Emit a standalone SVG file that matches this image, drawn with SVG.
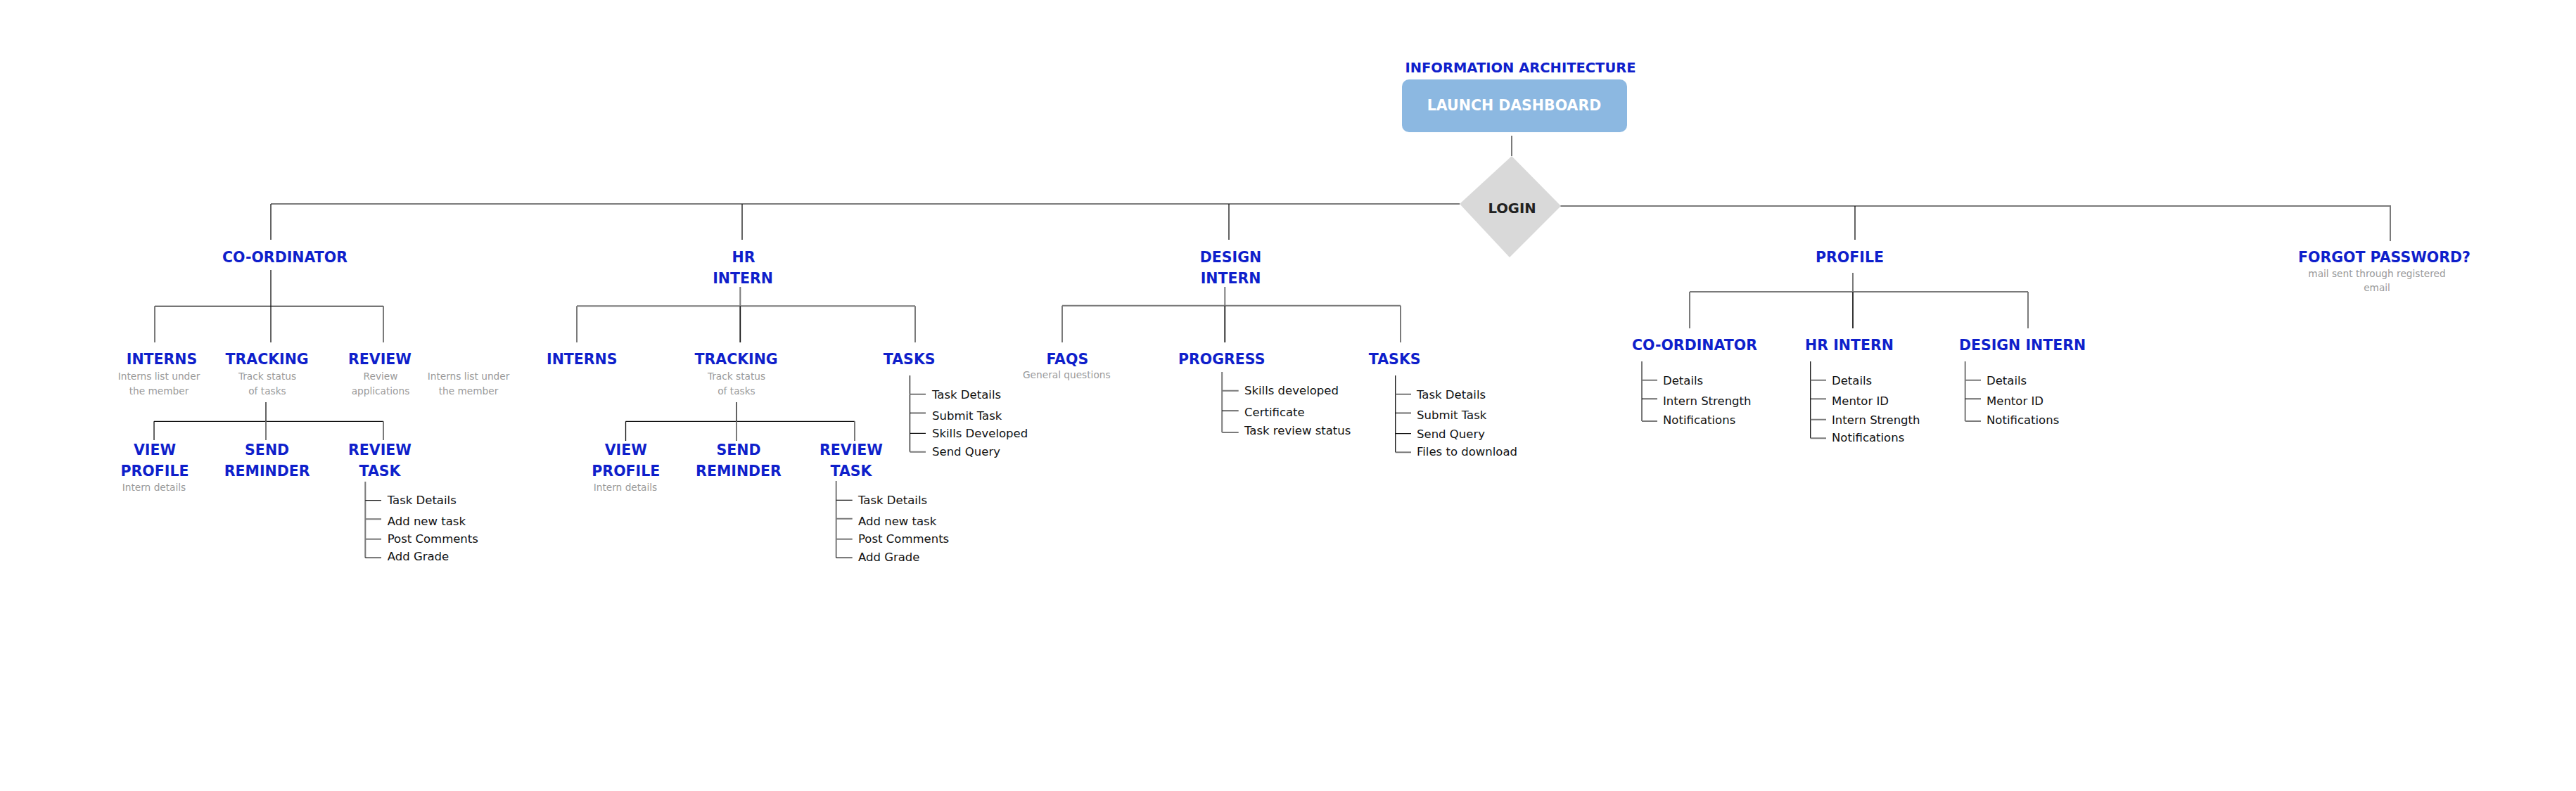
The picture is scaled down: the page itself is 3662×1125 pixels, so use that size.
<svg xmlns="http://www.w3.org/2000/svg" width="3662" height="1125" viewBox="0 0 3662 1125">
<style>
.h{font-family:"DejaVu Sans","Liberation Sans",sans-serif;font-weight:bold;font-size:20.5px;fill:#0F1FCB;text-anchor:middle}
.s{font-family:"DejaVu Sans","Liberation Sans",sans-serif;font-size:13.7px;fill:#9A9A9A;text-anchor:middle}
.b{font-family:"DejaVu Sans","Liberation Sans",sans-serif;font-size:16.5px;fill:#111}
.g{stroke:#7A7A7A;stroke-width:2;fill:none}
.k{stroke:#111;stroke-width:1.3;fill:none}
</style>
<rect width="3662" height="1125" fill="#FFFFFF"/>
<g id="connectors">
  <!-- top -->
  <path class="g" d="M2149 193V222"/>
  <path class="g" d="M385 290H2075M2218 293H3398V343"/>
  <path class="k" d="M385 290V341M1055 290V341M1747 290V341M2637 293V341"/>
  <!-- coordinator -->
  <path class="k" d="M385 384V487M220 435.3H545"/>
  <path class="g" d="M220 435.3V487M545 435.3V487"/>
  <path class="k" d="M378 572V599.3M219 599.3H545M219 599.3V626"/>
  <path class="g" d="M378 599.3V626M545 599.3V626"/>
  <path class="g" d="M519.3 685V793.3M519.3 738.3H542M519.3 766.7H542"/>
  <path class="k" d="M519.3 711.7H542M519.3 793.3H542"/>
  <!-- hr intern -->
  <path class="g" d="M1052.3 408V487M820 435.3H1301M820 435.3V487M1301 435.3V487"/>
  <path class="k" d="M1052.3 435.3V487"/>
  <path class="k" d="M1047 572V599.3M889.5 599.3H1215M889.5 599.3V627"/>
  <path class="g" d="M1047 599.3V627M1215 599.3V627"/>
  <path class="g" d="M1188.7 684V793.3M1188.7 737.7H1211.7M1188.7 766.7H1211.7"/>
  <path class="k" d="M1188.7 711.3H1211.7M1188.7 793.3H1211.7"/>
  <path class="k" d="M1293.5 534V642.7M1293.5 587.3H1316M1293.5 616.3H1316"/>
  <path class="g" d="M1293.5 560.7H1316M1293.5 642.7H1316"/>
  <!-- design intern -->
  <path class="g" d="M1741.3 408V487M1510 434.7H1991M1510 434.7V487M1991 434.7V487"/>
  <path class="k" d="M1741.3 434.7V487"/>
  <path class="g" d="M1737.2 529V615M1737.2 555.7H1760.7M1737.2 615H1760.7"/>
  <path class="k" d="M1737.2 584.3H1760.7"/>
  <path class="k" d="M1983.7 534V643.3M1983.7 587.3H2006M1983.7 616.7H2006"/>
  <path class="g" d="M1983.7 560.7H2006M1983.7 643.3H2006"/>
  <!-- profile -->
  <path class="g" d="M2634 388V467M2402 415H2883M2402 415V467M2883 415V467"/>
  <path class="k" d="M2634 415V467"/>
  <path class="g" d="M2334 514V599M2334 540.7H2356M2334 599H2356"/>
  <path class="k" d="M2334 567.3H2356"/>
  <path class="k" d="M2573.7 514V623.3M2573.7 567.3H2596"/>
  <path class="g" d="M2573.7 540.7H2596M2573.7 596.7H2596M2573.7 623.3H2596"/>
  <path class="g" d="M2793.7 514V599M2793.7 540.7H2816M2793.7 599H2816"/>
  <path class="k" d="M2793.7 567.3H2816"/>
</g>
<g id="title"><text class="h" x="2161.5" y="102.7" style="font-size:19.5px">INFORMATION ARCHITECTURE</text></g>
<g id="launch-dashboard">
  <rect x="1993" y="113" width="320" height="75" rx="10" fill="#8CB8E1"/>
  <text class="h" x="2152.5" y="156.7" style="fill:#FFFFFF">LAUNCH DASHBOARD</text>
</g>
<g id="login">
  <polygon points="2149,222 2219,293 2146,366 2075,290" fill="#D9D9D9"/>
  <text class="h" x="2149.5" y="302.7" style="fill:#222;font-size:19.6px">LOGIN</text>
</g>
<g id="co-ordinator"><text class="h" x="405" y="373.3">CO-ORDINATOR</text></g>
<g id="co-interns"><text class="h" x="230" y="518.3">INTERNS</text><text class="s" x="226" y="540">Interns list under</text><text class="s" x="226" y="560.7">the member</text></g>
<g id="co-tracking"><text class="h" x="379.6" y="518.3">TRACKING</text><text class="s" x="380" y="540">Track status</text><text class="s" x="380" y="560.7">of tasks</text></g>
<g id="co-review"><text class="h" x="540" y="518.3">REVIEW</text><text class="s" x="541" y="540">Review</text><text class="s" x="541" y="560.7">applications</text></g>
<g id="co-note"><text class="s" x="666" y="540">Interns list under</text><text class="s" x="666" y="560.7">the member</text></g>
<g id="co-view-profile"><text class="h" x="220" y="646.7">VIEW</text><text class="h" x="220" y="676.7">PROFILE</text><text class="s" x="219" y="698.3">Intern details</text></g>
<g id="co-send-reminder"><text class="h" x="379.6" y="646.7">SEND</text><text class="h" x="379.6" y="676.7">REMINDER</text></g>
<g id="co-review-task"><text class="h" x="540" y="646.7">REVIEW</text><text class="h" x="540" y="676.7">TASK</text>
  <text class="b" x="550.7" y="716.7">Task Details</text><text class="b" x="550.7" y="746.7">Add new task</text><text class="b" x="550.7" y="771.7">Post Comments</text><text class="b" x="550.7" y="797.3">Add Grade</text></g>
<g id="hr-intern"><text class="h" x="1057" y="373.3">HR</text><text class="h" x="1056" y="402.7">INTERN</text></g>
<g id="hr-interns"><text class="h" x="827.3" y="518.3">INTERNS</text></g>
<g id="hr-tracking"><text class="h" x="1046.6" y="518.3">TRACKING</text><text class="s" x="1047" y="540">Track status</text><text class="s" x="1047" y="560.7">of tasks</text></g>
<g id="hr-tasks"><text class="h" x="1292.7" y="518.3">TASKS</text>
  <text class="b" x="1325" y="566.7">Task Details</text><text class="b" x="1325" y="596.7">Submit Task</text><text class="b" x="1325" y="622">Skills Developed</text><text class="b" x="1325" y="648.3">Send Query</text></g>
<g id="hr-view-profile"><text class="h" x="889.8" y="646.7">VIEW</text><text class="h" x="889.8" y="676.7">PROFILE</text><text class="s" x="889" y="698.3">Intern details</text></g>
<g id="hr-send-reminder"><text class="h" x="1050" y="646.7">SEND</text><text class="h" x="1050" y="676.7">REMINDER</text></g>
<g id="hr-review-task"><text class="h" x="1210" y="646.7">REVIEW</text><text class="h" x="1210" y="676.7">TASK</text>
  <text class="b" x="1220" y="716.7">Task Details</text><text class="b" x="1220" y="746.7">Add new task</text><text class="b" x="1220" y="771.7">Post Comments</text><text class="b" x="1220" y="797.7">Add Grade</text></g>
<g id="design-intern"><text class="h" x="1749.5" y="373.3">DESIGN</text><text class="h" x="1749.5" y="402.7">INTERN</text></g>
<g id="faqs"><text class="h" x="1517.3" y="518.3">FAQS</text><text class="s" x="1516.3" y="538.3">General questions</text></g>
<g id="progress"><text class="h" x="1736.7" y="518.3">PROGRESS</text>
  <text class="b" x="1769" y="560.7">Skills developed</text><text class="b" x="1769" y="591.7">Certificate</text><text class="b" x="1769" y="618.3">Task review status</text></g>
<g id="design-tasks"><text class="h" x="1982.7" y="518.3">TASKS</text>
  <text class="b" x="2014" y="566.7">Task Details</text><text class="b" x="2014" y="596">Submit Task</text><text class="b" x="2014" y="623.3">Send Query</text><text class="b" x="2014" y="648.3">Files to download</text></g>
<g id="profile"><text class="h" x="2629.5" y="373.3">PROFILE</text></g>
<g id="profile-co-ordinator"><text class="h" x="2409" y="498.3">CO-ORDINATOR</text>
  <text class="b" x="2364" y="546.7">Details</text><text class="b" x="2364" y="576">Intern Strength</text><text class="b" x="2364" y="603.3">Notifications</text></g>
<g id="profile-hr-intern"><text class="h" x="2629" y="498.3">HR INTERN</text>
  <text class="b" x="2604" y="546.7">Details</text><text class="b" x="2604" y="576">Mentor ID</text><text class="b" x="2604" y="603.3">Intern Strength</text><text class="b" x="2604" y="628.3">Notifications</text></g>
<g id="profile-design-intern"><text class="h" x="2875" y="498.3">DESIGN INTERN</text>
  <text class="b" x="2824" y="546.7">Details</text><text class="b" x="2824" y="576">Mentor ID</text><text class="b" x="2824" y="603.3">Notifications</text></g>
<g id="forgot-password"><text class="h" x="3389.5" y="372.7">FORGOT PASSWORD?</text>
  <text class="s" x="3379" y="394">mail sent through registered</text><text class="s" x="3379" y="414">email</text></g>
</svg>
